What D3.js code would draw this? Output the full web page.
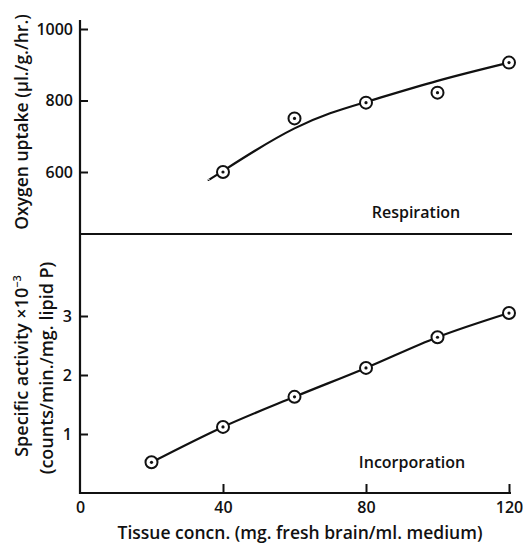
<!DOCTYPE html>
<style>
body { margin: 0; background: #fff; }
svg { font-family: 'Open Sans', sans-serif; }
.axis .domain { display: none; }
.axis line { stroke: #111; stroke-width: 2; }
.axis text { font-size: 16px; font-weight: 600; fill: #111; font-family: 'Open Sans', sans-serif; }
</style>
<svg width="523" height="544"></svg>
<script src="https://d3js.org/d3.v7.min.js"></script>
<script>
// respiration data (oxygen uptake)
var respConc = [40, 60, 80, 100, 120];
var respUptake = [600, 750, 794, 822, 906];
// hand-drawn fit line through respiration points
var respFitConc = [36, 40, 60, 80, 100, 120];
var respFitUptake = [578, 603, 722, 796, 855, 906];

// incorporation data (specific activity x10^-3)
var incConc = [20, 40, 60, 80, 100, 120];
var incActivity = [0.52, 1.12, 1.63, 2.12, 2.64, 3.05];

var xTicks = [0, 40, 80, 120];
var topTicks = [600, 800, 1000];
var botTicks = [1, 2, 3];

var svg = d3.select("svg");

var x = d3.scaleLinear().domain([0, 120]).range([80, 509]);
var yTop = d3.scaleLinear().domain([600, 1000]).range([172, 29]);
var yBot = d3.scaleLinear().domain([0, 3]).range([493, 316]);

// axis lines
svg.append("line").attr("x1", 80).attr("x2", 80).attr("y1", 20).attr("y2", 494)
  .attr("stroke", "#111").attr("stroke-width", 2.2);
svg.append("line").attr("x1", 79).attr("x2", 511).attr("y1", 493).attr("y2", 493)
  .attr("stroke", "#111").attr("stroke-width", 2.2);
svg.append("line").attr("x1", 79).attr("x2", 512).attr("y1", 234).attr("y2", 234)
  .attr("stroke", "#111").attr("stroke-width", 2.2);

svg.append("g").attr("class", "axis")
  .attr("transform", "translate(80,0)")
  .call(d3.axisLeft(yTop).tickValues(topTicks).tickFormat(d3.format("d"))
    .tickSizeInner(-8).tickSizeOuter(0).tickPadding(7));

svg.append("g").attr("class", "axis")
  .attr("transform", "translate(80,0)")
  .call(d3.axisLeft(yBot).tickValues(botTicks).tickFormat(d3.format("d"))
    .tickSizeInner(-8).tickSizeOuter(0).tickPadding(8));

var xAxis = svg.append("g").attr("class", "axis")
  .attr("transform", "translate(0,493)")
  .call(d3.axisBottom(x).tickValues(xTicks).tickSizeInner(-9).tickSizeOuter(0).tickPadding(9));
xAxis.selectAll(".tick").filter(function(d) { return d === 0; }).select("line").remove();

// fit lines
svg.append("path")
  .datum(d3.zip(respFitConc, respFitUptake))
  .attr("fill", "none").attr("stroke", "#111").attr("stroke-width", 2.2)
  .attr("d", d3.line().x(function(d) { return x(d[0]); }).y(function(d) { return yTop(d[1]); })
    .curve(d3.curveNatural));

svg.append("path")
  .datum(d3.zip(incConc, incActivity))
  .attr("fill", "none").attr("stroke", "#111").attr("stroke-width", 2.2)
  .attr("d", d3.line().x(function(d) { return x(d[0]); }).y(function(d) { return yBot(d[1]); })
    .curve(d3.curveMonotoneX));

// point markers: circle with center dot
function markers(data, yScale) {
  var g = svg.append("g").selectAll("g").data(data).enter().append("g")
    .attr("transform", function(d) { return "translate(" + x(d[0]) + "," + yScale(d[1]) + ")"; });
  g.append("circle").attr("r", 6).attr("fill", "#fff").attr("stroke", "#111").attr("stroke-width", 2);
  g.append("circle").attr("r", 1.6).attr("fill", "#111");
}
markers(d3.zip(respConc, respUptake), yTop);
markers(d3.zip(incConc, incActivity), yBot);

// panel labels
svg.append("text").attr("x", 416).attr("y", 218).attr("text-anchor", "middle")
  .attr("font-size", 16).attr("font-weight", 600).attr("fill", "#111").text("Respiration");
svg.append("text").attr("x", 412).attr("y", 468).attr("text-anchor", "middle")
  .attr("font-size", 16).attr("font-weight", 600).attr("fill", "#111").text("Incorporation");

// axis titles
svg.append("text").attr("transform", "translate(28,122) rotate(-90)")
  .attr("text-anchor", "middle").attr("font-size", 17.5).attr("font-weight", 600).attr("fill", "#111")
  .text("Oxygen uptake (\u00b5l./g./hr.)");

var t1 = svg.append("text").attr("transform", "translate(28,366) rotate(-90)")
  .attr("text-anchor", "middle").attr("font-size", 18).attr("font-weight", 600).attr("fill", "#111");
t1.append("tspan").text("Specific activity \u00d710");
t1.append("tspan").attr("dy", -7).attr("font-size", 11).text("\u22123");

svg.append("text").attr("transform", "translate(53,368) rotate(-90)")
  .attr("text-anchor", "middle").attr("font-size", 18).attr("font-weight", 600).attr("fill", "#111")
  .text("(counts/min./mg. lipid P)");

svg.append("text").attr("x", 300).attr("y", 539)
  .attr("text-anchor", "middle").attr("font-size", 17.5).attr("font-weight", 600).attr("fill", "#111")
  .text("Tissue concn. (mg. fresh brain/ml. medium)");
</script>
